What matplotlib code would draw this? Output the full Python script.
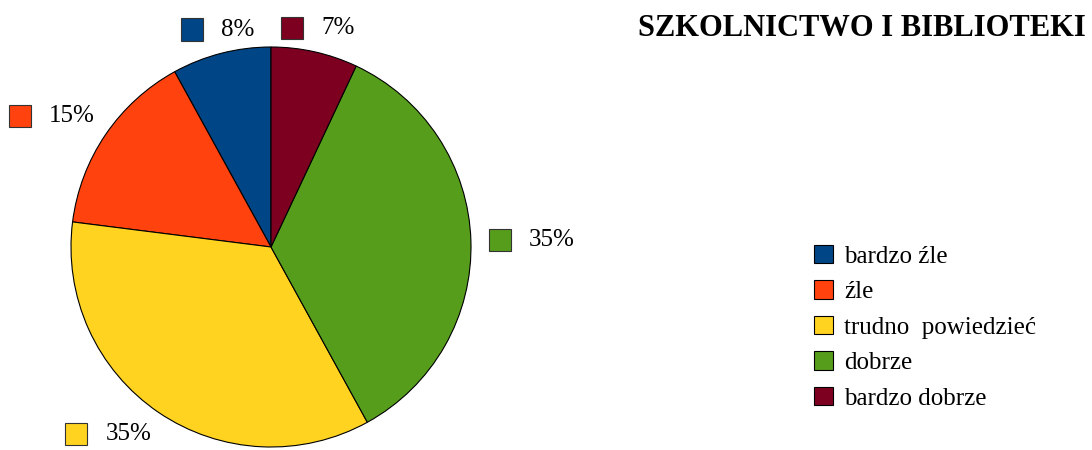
import matplotlib
matplotlib.use("Agg")
import matplotlib.pyplot as plt
import numpy as np
from matplotlib.offsetbox import AnnotationBbox, DrawingArea, TextArea, HPacker
from matplotlib.patches import Rectangle

categories = ["bardzo źle", "źle", "trudno  powiedzieć", "dobrze", "bardzo dobrze"]
values = [8, 15, 35, 35, 7]
colors = ["#004586", "#ff420e", "#ffd320", "#579d1c", "#7e0021"]
title = "SZKOLNICTWO I BIBLIOTEKI"

plt.rcParams['font.family'] = ['Liberation Serif', 'DejaVu Serif']

W, H = 1092, 450
fig = plt.figure(figsize=(W / 100, H / 100), dpi=100)

# pie centre (271, 247) px, radius 200 px
cx, cy, r = 271, 247, 200
ax = fig.add_axes([(cx - r) / W, (H - cy - r) / H, 2 * r / W, 2 * r / H])

wedges, _ = ax.pie(values, colors=colors, startangle=90, counterclock=True,
                   wedgeprops=dict(edgecolor='black', linewidth=0.8))
ax.set_xlim(-1, 1)
ax.set_ylim(-1, 1)
ax.set_aspect('equal')
ax.axis('off')

# percentage labels with colour key, placed outside each wedge
for w, v, c in zip(wedges, values, colors):
    ang = np.deg2rad((w.theta1 + w.theta2) / 2)
    cs, sn = np.cos(ang), np.sin(ang)
    dist = 1.09 if cs > 0.9 else 1.065
    x, y = dist * cs, dist * sn
    bx = 0.5 if abs(cs) < 0.3 else (0.0 if cs > 0 else 1.0)
    by = 0.5 if abs(sn) < 0.3 else (0.0 if sn > 0 else 1.0)

    da = DrawingArea(16, 16, 0, 0)
    da.add_artist(Rectangle((0, 0), 16, 16, facecolor=c, edgecolor='#333333', linewidth=0.8))
    ta = TextArea(f"{v}%", textprops=dict(fontsize=18, color='black'))
    box = HPacker(children=[da, ta], align='center', pad=0, sep=13)
    ab = AnnotationBbox(box, (x, y), xycoords='data', box_alignment=(bx, by),
                        frameon=False, pad=0, annotation_clip=False)
    ax.add_artist(ab)

fig.text(638 / W, 1 - 28 / H, title, fontsize=22, fontweight='bold',
         ha='left', va='center')

fig.legend(wedges, categories, loc='upper left',
           bbox_to_anchor=(814 / W, 1 - 245 / H), frameon=False,
           fontsize=18, handlelength=0.76, handleheight=0.76,
           handletextpad=0.45, labelspacing=0.5, borderpad=0, borderaxespad=0)

fig.savefig("out.png", dpi=100)
